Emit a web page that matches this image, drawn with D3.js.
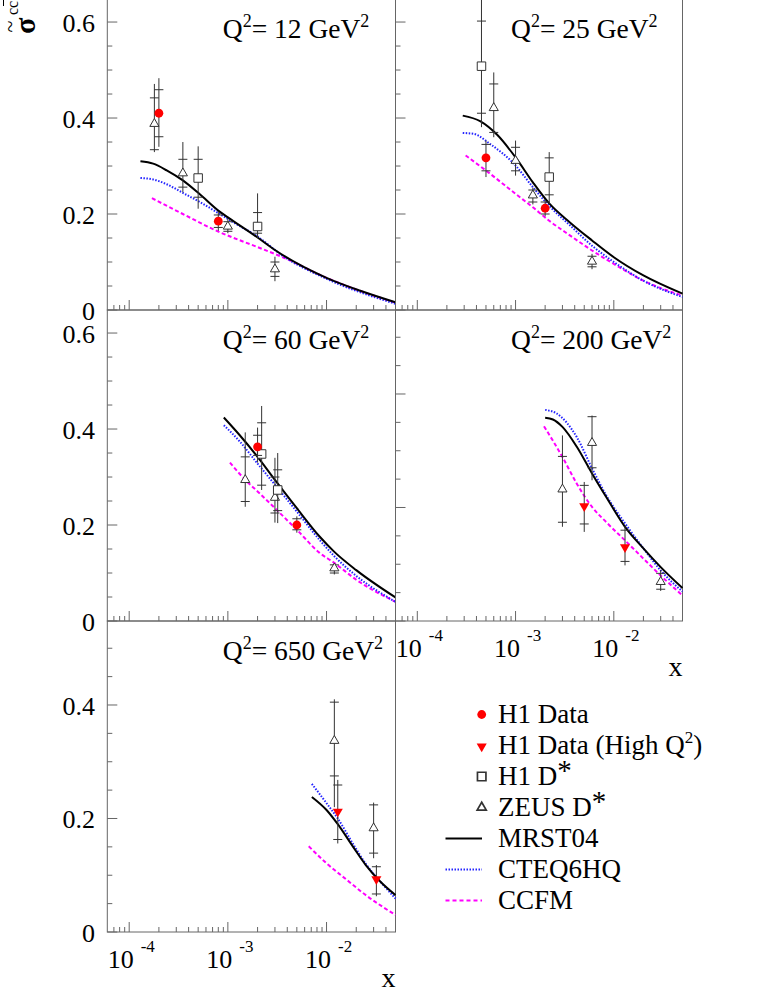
<!DOCTYPE html>
<html><head><meta charset="utf-8">
<script src="https://cdn.jsdelivr.net/npm/d3@7"></script>
<style>
body{margin:0;background:#fff}
svg{display:block}
text{font-family:"Liberation Serif","Times New Roman",serif;fill:#000}
</style>
</head><body>
<svg id="c" width="776" height="1004" font-family="Liberation Serif, Times New Roman, serif"></svg>
<script>
// ---------------- data ----------------
const panelQ2 = ["12", "25", "60", "200", "650"];
const panelYMax = [0.648, 0.648, 0.648, 0.548, 0.548];
const xDomain = [6e-5, 0.05];
const yTickLabelValues = [0, 0.2, 0.4, 0.6];
const xTickExponents = [-4, -3, -2];

// [panel, x, y, statLo, statHi, totLo, totHi]
const h1Data = [
  [0, 2e-4, 0.41, 0.361, 0.459, 0.34, 0.483],
  [0, 8e-4, 0.185, 0.172, 0.198, 0.165, 0.205],
  [1, 5e-4, 0.317, 0.29, 0.345, 0.277, 0.353],
  [1, 2e-3, 0.212, 0.2, 0.225, 0.195, 0.23],
  [2, 2e-3, 0.363, 0.345, 0.387, 0.33, 0.403],
  [2, 5e-3, 0.2, 0.19, 0.213, 0.184, 0.218]
];
const h1HighQ2 = [
  [3, 5e-3, 0.204, 0.171, 0.239, 0.157, 0.245],
  [3, 1.3e-2, 0.132, 0.105, 0.16, 0.098, 0.168],
  [4, 1.3e-2, 0.214, 0.163, 0.259, 0.156, 0.268],
  [4, 3.2e-2, 0.095, 0.067, 0.115, 0.063, 0.118]
];
const h1Dstar = [
  [0, 5e-4, 0.275, 0.235, 0.314, 0.211, 0.341],
  [0, 2e-3, 0.174, 0.16, 0.203, 0.15, 0.243],
  [1, 4.5e-4, 0.508, 0.41, 0.602, 0.381, 0.7],
  [1, 2.2e-3, 0.277, 0.24, 0.317, 0.221, 0.329],
  [2, 2.2e-3, 0.348, 0.283, 0.413, 0.273, 0.448],
  [2, 3.2e-3, 0.273, 0.23, 0.315, 0.204, 0.35]
];
const zeusDstar = [
  [0, 1.8e-4, 0.388, 0.334, 0.442, 0.329, 0.471],
  [0, 3.5e-4, 0.285, 0.256, 0.314, 0.245, 0.35],
  [0, 1e-3, 0.174, 0.164, 0.184, 0.16, 0.19],
  [0, 3e-3, 0.085, 0.07, 0.1, 0.06, 0.111],
  [1, 6e-4, 0.421, 0.37, 0.471, 0.36, 0.495],
  [1, 1e-3, 0.311, 0.29, 0.339, 0.28, 0.353],
  [1, 1.5e-3, 0.239, 0.225, 0.25, 0.22, 0.255],
  [1, 6e-3, 0.101, 0.09, 0.112, 0.085, 0.117],
  [2, 1.5e-3, 0.294, 0.249, 0.342, 0.238, 0.393],
  [2, 3e-3, 0.257, 0.225, 0.3, 0.205, 0.34],
  [2, 1.2e-2, 0.11, 0.1, 0.117, 0.097, 0.12],
  [3, 3e-3, 0.232, 0.174, 0.29, 0.166, 0.327],
  [3, 6e-3, 0.314, 0.27, 0.36, 0.248, 0.362],
  [3, 3e-2, 0.069, 0.056, 0.084, 0.053, 0.09],
  [4, 1.2e-2, 0.337, 0.275, 0.405, 0.22, 0.41],
  [4, 3e-2, 0.183, 0.139, 0.224, 0.13, 0.228]
];

// theory curves per panel: [x, sigma]
const mrst04 = [
  [[1.3e-4,0.31],[1.75e-4,0.305],[2.4e-4,0.291],[3.5e-4,0.27],[5.2e-4,0.241],[8e-4,0.207],[1e-3,0.193],[2e-3,0.151],[3e-3,0.125],[1e-2,0.067],[2.2e-2,0.04],[5e-2,0.016]],
  [[2.9e-4,0.405],[4.4e-4,0.393],[6.5e-4,0.365],[1e-3,0.318],[1.5e-3,0.266],[2.2e-3,0.222],[3.6e-3,0.182],[6e-3,0.145],[1e-2,0.11],[2e-2,0.072],[5e-2,0.034]],
  [[9.1e-4,0.424],[1.32e-3,0.387],[2e-3,0.342],[3e-3,0.294],[5e-3,0.235],[8.5e-3,0.176],[1.2e-2,0.144],[2e-2,0.106],[5e-2,0.049]],
  [[2e-3,0.358],[2.4e-3,0.355],[3e-3,0.342],[4.2e-3,0.307],[6e-3,0.26],[8.4e-3,0.218],[1.3e-2,0.166],[2e-2,0.128],[3e-2,0.095],[5e-2,0.058]],
  [[7.1e-3,0.238],[1e-2,0.215],[1.3e-2,0.19],[1.86e-2,0.15],[2.5e-2,0.118],[3.5e-2,0.089],[5e-2,0.065]]
];
const cteq6hq = [
  [[1.3e-4,0.275],[1.75e-4,0.272],[2.4e-4,0.262],[3.5e-4,0.244],[5.2e-4,0.225],[7.7e-4,0.204],[1.13e-3,0.183],[2e-3,0.153],[3.6e-3,0.113],[1e-2,0.065],[5e-2,0.013]],
  [[2.9e-4,0.369],[3.75e-4,0.367],[5.5e-4,0.346],[1e-3,0.301],[1.5e-3,0.256],[2.2e-3,0.217],[3.6e-3,0.176],[6e-3,0.134],[1e-2,0.1],[2e-2,0.061],[5e-2,0.027]],
  [[9.1e-4,0.408],[1.32e-3,0.374],[2e-3,0.328],[3e-3,0.284],[5e-3,0.228],[8.5e-3,0.169],[1.2e-2,0.135],[2e-2,0.094],[5e-2,0.04]],
  [[2e-3,0.372],[2.6e-3,0.366],[4.2e-3,0.324],[6e-3,0.269],[8.4e-3,0.221],[1.3e-2,0.172],[2e-2,0.128],[3e-2,0.089],[5e-2,0.052]],
  [[7.1e-3,0.261],[1e-2,0.227],[1.3e-2,0.2],[1.86e-2,0.155],[2.5e-2,0.12],[3.5e-2,0.089],[5e-2,0.059]]
];
const ccfm = [
  [[1.7e-4,0.233],[3.5e-4,0.2],[7.7e-4,0.165],[2e-3,0.131],[3.6e-3,0.11],[1e-2,0.067],[5e-2,0.015]],
  [[3.1e-4,0.322],[5.5e-4,0.284],[1e-3,0.242],[1.5e-3,0.214],[2.2e-3,0.186],[3.6e-3,0.155],[6e-3,0.124],[1e-2,0.096],[2e-2,0.061],[5e-2,0.03]],
  [[1.05e-3,0.33],[1.5e-3,0.294],[2e-3,0.27],[3e-3,0.235],[5e-3,0.19],[8.5e-3,0.142],[1.2e-2,0.121],[2e-2,0.086],[5e-2,0.04]],
  [[1.95e-3,0.343],[3e-3,0.289],[4.2e-3,0.242],[6e-3,0.201],[8.4e-3,0.174],[1.3e-2,0.142],[2e-2,0.11],[3e-2,0.08],[5e-2,0.045]],
  [[6.6e-3,0.151],[1e-2,0.121],[1.6e-2,0.092],[2.5e-2,0.065],[5e-2,0.03]]
];

const legendLabels = ["H1 Data", "H1 Data (High Q|2|)", "H1 D|*|", "ZEUS D|*|", "MRST04", "CTEQ6HQ", "CCFM"];

// ---------------- layout ----------------
const panelCol = [0, 1, 0, 1, 0];
const panelRow = [0, 0, 1, 1, 2];
const colX = [[107.3, 395.5], [395.5, 682.5]];
const rowY = [[-1, 310], [310, 621], [621, 932]];
const hasXLabels = [false, false, false, true, true];
const hasYLabels = [true, false, true, false, true];

const svg = d3.select("#c");
const frameColor = "#666";
const errColor = "#333";
const blue = "#2424ff", magenta = "#ff00ff", red = "#ff0000";

function sc(p) {
  const cx = colX[panelCol[p]], ry = rowY[panelRow[p]];
  return {
    x: d3.scaleLog().domain(xDomain).range(cx),
    y: d3.scaleLinear().domain([0, panelYMax[p]]).range([ry[1], ry[0]]),
    cx, ry
  };
}

// superscript-aware text writer: "A|sup|B"
function richText(sel, str, size, supSize, supRise) {
  const parts = str.split("|");
  parts.forEach((t, i) => {
    if (!t) return;
    const isSup = i % 2 === 1;
    sel.append("tspan")
      .attr("font-size", isSup ? supSize : size)
      .attr("dy", isSup ? -supRise : (i > 0 ? supRise : 0))
      .text(t);
  });
}

panelQ2.forEach((q, p) => {
  const s = sc(p);
  const g = svg.append("g");
  // x ticks
  const xt = [];
  for (let e = -5; e <= -1; e++) for (let m = 1; m <= 9; m++) {
    const v = m * Math.pow(10, e);
    if (v > xDomain[0] * 1.0001 && v < xDomain[1] * 0.9999) xt.push([v, m === 1]);
  }
  g.selectAll(null).data(xt).join("line")
    .attr("x1", d => s.x(d[0])).attr("x2", d => s.x(d[0]))
    .attr("y1", s.ry[1]).attr("y2", d => s.ry[1] - (d[1] ? 10 : 5))
    .attr("stroke", frameColor).attr("stroke-width", 1);
  // y ticks
  const yt = d3.range(0, panelYMax[p] + 1e-9, 0.05).map(v => [v, Math.abs(v / 0.2 - Math.round(v / 0.2)) < 1e-6]);
  g.selectAll(null).data(yt).join("line")
    .attr("x1", s.cx[0]).attr("x2", d => s.cx[0] + (d[1] ? 10 : 5))
    .attr("y1", d => s.y(d[0])).attr("y2", d => s.y(d[0]))
    .attr("stroke", frameColor).attr("stroke-width", 1);
  // frame
  g.append("rect").attr("x", s.cx[0]).attr("y", s.ry[0])
    .attr("width", s.cx[1] - s.cx[0]).attr("height", s.ry[1] - s.ry[0])
    .attr("fill", "none").attr("stroke", frameColor).attr("stroke-width", 1);

  // y labels
  if (hasYLabels[p]) {
    g.selectAll(null).data(yTickLabelValues.filter(v => v <= panelYMax[p])).join("text")
      .attr("x", 95).attr("y", d => s.y(d) + 10)
      .attr("text-anchor", "end").attr("font-size", 26)
      .text(d => d === 0 ? "0" : d3.format(".1f")(d));
  }
  // x labels
  if (hasXLabels[p]) {
    xTickExponents.forEach(e => {
      const xv = s.x(Math.pow(10, e));
      g.append("text").attr("x", xv + 4.5).attr("y", s.ry[1] + 36)
        .attr("text-anchor", "end").attr("font-size", 26).text("10");
      g.append("text").attr("x", xv + 11.5).attr("y", s.ry[1] + 20)
        .attr("text-anchor", "start").attr("font-size", 17).text(String(e));
    });
    g.append("text").attr("x", s.cx[1]).attr("y", s.ry[1] + 55)
      .attr("text-anchor", "end").attr("font-size", 28).text("x");
  }
  // title
  const t = g.append("text").attr("x", s.cx[0] + 115.5).attr("y", s.ry[0] + 39);
  richText(t, "Q|2|= " + q + " GeV|2|", 27.5, 18, 11.5);

  // curves
  const line = d3.line().x(d => s.x(d[0])).y(d => s.y(d[1])).curve(d3.curveMonotoneX);
  g.append("path").attr("d", line(ccfm[p])).attr("fill", "none")
    .attr("stroke", magenta).attr("stroke-width", 2).attr("stroke-dasharray", "4,2.5");
  g.append("path").attr("d", line(cteq6hq[p])).attr("fill", "none")
    .attr("stroke", blue).attr("stroke-width", 2).attr("stroke-dasharray", "1.5,1.5");
  g.append("path").attr("d", line(mrst04[p])).attr("fill", "none")
    .attr("stroke", "#000").attr("stroke-width", 2);

  // error bars + markers
  const sets = [
    [zeusDstar, "tri"], [h1Dstar, "sq"], [h1Data, "circ"], [h1HighQ2, "tdown"]
  ];
  sets.forEach(([arr, kind]) => {
    const pts = arr.filter(d => d[0] === p);
    pts.forEach(d => {
      const px = s.x(d[1]);
      g.append("line").attr("x1", px).attr("x2", px)
        .attr("y1", s.y(Math.min(d[6], panelYMax[p]))).attr("y2", s.y(d[5]))
        .attr("stroke", errColor).attr("stroke-width", 1);
      [d[3], d[4]].forEach(v => {
        g.append("line").attr("x1", px - 4.5).attr("x2", px + 4.5)
          .attr("y1", s.y(v)).attr("y2", s.y(v))
          .attr("stroke", errColor).attr("stroke-width", 1);
      });
    });
    pts.forEach(d => drawMarker(g, kind, s.x(d[1]), s.y(d[2]), 1));
  });
});

function drawMarker(g, kind, x, y, sw) {
  if (kind === "circ") {
    g.append("circle").attr("cx", x).attr("cy", y).attr("r", 4.4).attr("fill", red);
  } else if (kind === "tdown") {
    g.append("path").attr("d", d3.symbol(d3.symbolTriangle, 44)())
      .attr("transform", `translate(${x},${y + 1}) rotate(180)`).attr("fill", red);
  } else if (kind === "sq") {
    g.append("path").attr("d", d3.symbol(d3.symbolSquare, 72)())
      .attr("transform", `translate(${x},${y})`).attr("fill", "#fff")
      .attr("stroke", errColor).attr("stroke-width", sw);
  } else if (kind === "tri") {
    g.append("path").attr("d", d3.symbol(d3.symbolTriangle, 36)())
      .attr("transform", `translate(${x},${y})`).attr("fill", "#fff")
      .attr("stroke", errColor).attr("stroke-width", sw);
  }
}

// y-axis label: sigma-tilde with superscript c c-bar (rotated)
const yl = svg.append("g");
yl.append("text").attr("transform", "translate(35,34) rotate(-90)")
  .attr("font-size", 30).attr("font-weight", "bold").text("\u03C3");
yl.append("text").attr("transform", "translate(9,26.5) rotate(-90)")
  .attr("font-size", 22).attr("text-anchor", "middle")
  .attr("dominant-baseline", "central").text("~");
yl.append("text").attr("transform", "translate(18,15) rotate(-90)")
  .attr("font-size", 16).text("cc");
yl.append("line").attr("x1", 3.5).attr("x2", 3.5).attr("y1", 0).attr("y2", 6)
  .attr("stroke", "#000").attr("stroke-width", 1);

// legend
const lg = svg.append("g");
const legendKinds = ["circ", "tdown", "sq", "tri", "line", "line", "line"];
const legendLineStyles = [null, null, null, null, ["#000", null], [blue, "1.5,1.5"], [magenta, "4,3"]];
legendLabels.forEach((lab, i) => {
  const cy = 714.5 + i * 31;
  if (legendKinds[i] === "line") {
    lg.append("line").attr("x1", 445.5).attr("x2", 482).attr("y1", cy).attr("y2", cy)
      .attr("stroke", legendLineStyles[i][0]).attr("stroke-width", 2)
      .attr("stroke-dasharray", legendLineStyles[i][1]);
  } else {
    drawMarker(lg, legendKinds[i], 481.7, cy, 1.7);
  }
  const t = lg.append("text").attr("x", 498).attr("y", cy + 8.5);
  richText(t, lab, 27, lab.includes("*") ? 29 : 17, lab.includes("*") ? 5 : 11);
});
</script>
</body></html>
